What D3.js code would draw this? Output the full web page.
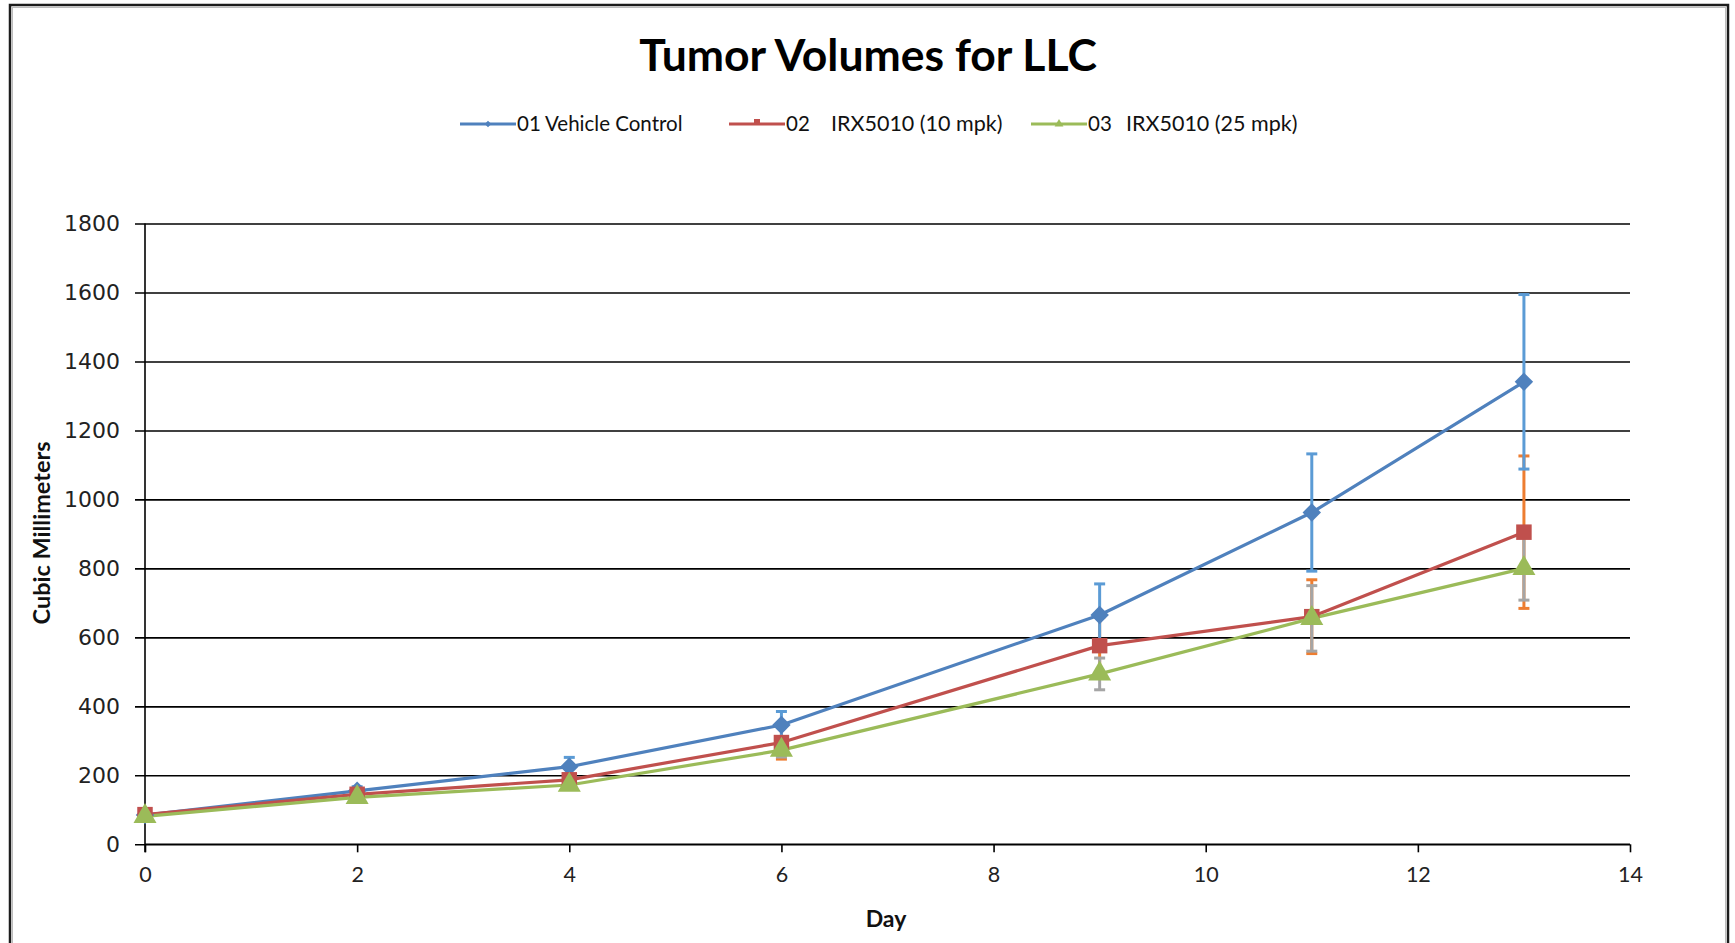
<!DOCTYPE html>
<html>
<head>
<meta charset="utf-8">
<script src="https://cdn.jsdelivr.net/npm/d3@7"></script>
<style>
  html, body { margin: 0; padding: 0; background: #fff; }
  svg { display: block; }
</style>
</head>
<body>
<svg id="chart" width="1735" height="943"></svg>
<script>
// Measurement days and mean tumor volumes (mm³) with their error (±)
const days = [0, 2, 4, 6, 9, 11, 13];
const vehicle = [85, 155, 225, 346, 665, 962, 1341];
const vehicleErr = [5, 12, 27, 39, 90, 170, 253];
const mpk10 = [86, 145, 187, 295, 576, 660, 905];
const mpk10Err = [5, 8, 15, 48, 82, 107, 221];
const mpk25 = [81, 136, 172, 273, 494, 655, 800];
const mpk25Err = [4, 8, 12, 20, 46, 95, 92];
const seriesCodes = ["01", "02", "03"];
const seriesLabels = ["Vehicle Control", "IRX5010 (10 mpk)", "IRX5010 (25 mpk)"];
const yTicks = [0, 200, 400, 600, 800, 1000, 1200, 1400, 1600, 1800];
const xTicks = [0, 2, 4, 6, 8, 10, 12, 14];

const series = [
  { code: seriesCodes[0], label: seriesLabels[0], values: vehicle, err: vehicleErr, color: "#4F81BD", errColor: "#5B9BD5", shape: "diamond" },
  { code: seriesCodes[1], label: seriesLabels[1], values: mpk10, err: mpk10Err, color: "#C0504D", errColor: "#ED7D31", shape: "square" },
  { code: seriesCodes[2], label: seriesLabels[2], values: mpk25, err: mpk25Err, color: "#9BBB59", errColor: "#A5A5A5", shape: "triangle" }
];

const svg = d3.select("#chart");

// Chart frame
svg.append("rect")
  .attr("x", 10).attr("y", 5)
  .attr("width", 1718).attr("height", 960)
  .attr("fill", "#fff")
  .attr("stroke", "#1c1c1c").attr("stroke-width", 2.5);
svg.append("rect")
  .attr("x", 12.5).attr("y", 7.5)
  .attr("width", 1713).attr("height", 960)
  .attr("fill", "none")
  .attr("stroke", "#bdbdbd").attr("stroke-width", 1);

const plot = { left: 145, right: 1630, top: 223.5, bottom: 844.3 };

const x = d3.scaleLinear().domain([0, 14]).range([plot.left, plot.right]);
const y = d3.scaleLinear().domain([0, 1800]).range([plot.bottom, plot.top]);

// Title
svg.append("text")
  .attr("x", 868).attr("y", 71)
  .attr("text-anchor", "middle")
  .attr("font-family", "Lato, sans-serif")
  .attr("font-weight", "bold")
  .attr("font-size", 44.5)
  .attr("fill", "#000")
  .text("Tumor Volumes for LLC");

// Horizontal gridlines with left tick stubs
const yAxis = d3.axisLeft(y)
  .tickValues(yTicks)
  .tickSize(-(plot.right - plot.left))
  .tickPadding(25)
  .tickFormat(d3.format("d"));
const gy = svg.append("g")
  .attr("transform", `translate(${plot.left},0)`)
  .call(yAxis);
gy.select(".domain").remove();
gy.selectAll(".tick line")
  .attr("x1", -10)
  .attr("stroke", "#000").attr("stroke-width", 1.6);
gy.selectAll(".tick text")
  .attr("font-family", "'DejaVu Sans', Verdana, sans-serif")
  .attr("font-size", 22)
  .attr("fill", "#222");

// Vertical value axis line
svg.append("line")
  .attr("x1", plot.left).attr("x2", plot.left)
  .attr("y1", plot.top).attr("y2", plot.bottom + 8)
  .attr("stroke", "#000").attr("stroke-width", 1.6);

// Day axis
const xAxis = d3.axisBottom(x)
  .tickValues(xTicks)
  .tickSize(8)
  .tickPadding(14)
  .tickFormat(d3.format("d"));
const gx = svg.append("g")
  .attr("transform", `translate(0,${plot.bottom})`)
  .call(xAxis);
gx.select(".domain")
  .attr("d", `M${plot.left},0H${plot.right}`)
  .attr("stroke", "#000").attr("stroke-width", 1.6);
gx.selectAll(".tick line").attr("stroke", "#000").attr("stroke-width", 1.6);
gx.selectAll(".tick text")
  .attr("font-family", "Lato, sans-serif")
  .attr("font-size", 21.5)
  .attr("fill", "#222");

// Axis titles
svg.append("text")
  .attr("x", 886).attr("y", 927)
  .attr("text-anchor", "middle")
  .attr("font-family", "Lato, sans-serif")
  .attr("font-weight", "bold")
  .attr("font-size", 23)
  .attr("fill", "#111")
  .text("Day");
svg.append("text")
  .attr("transform", "translate(50,533) rotate(-90)")
  .attr("text-anchor", "middle")
  .attr("font-family", "Lato, sans-serif")
  .attr("font-weight", "bold")
  .attr("font-size", 23.5)
  .attr("fill", "#111")
  .text("Cubic Millimeters");

// Error bars (orange, gray, then blue on top)
const errOrder = [1, 2, 0];
errOrder.forEach(i => {
  const s = series[i];
  const g = svg.append("g").attr("class", "errbars");
  days.forEach((d, j) => {
    const cx = x(d);
    const top = y(s.values[j] + s.err[j]);
    const bot = y(s.values[j] - s.err[j]);
    g.append("line").attr("x1", cx).attr("x2", cx).attr("y1", top).attr("y2", bot)
      .attr("stroke", s.errColor).attr("stroke-width", 3);
    [top, bot].forEach(v => {
      g.append("line").attr("x1", cx - 5.5).attr("x2", cx + 5.5).attr("y1", v).attr("y2", v)
        .attr("stroke", s.errColor).attr("stroke-width", 3);
    });
  });
});

// Series lines
const line = d3.line().x((d, j) => x(days[j])).y(d => y(d));
series.forEach(s => {
  svg.append("path")
    .datum(s.values)
    .attr("d", line)
    .attr("fill", "none")
    .attr("stroke", s.color)
    .attr("stroke-width", 3.2)
    .attr("stroke-linejoin", "round");
});

// Marker symbols
const symbolFor = {
  diamond: d3.symbol().type(d3.symbolSquare).size(170),
  square: d3.symbol().type(d3.symbolSquare).size(240),
  triangle: d3.symbol().type(d3.symbolTriangle).size(230)
};
series.forEach(s => {
  svg.append("g").selectAll("path")
    .data(s.values)
    .join("path")
    .attr("d", symbolFor[s.shape])
    .attr("transform", (d, j) => `translate(${x(days[j])},${y(d)})` + (s.shape === "diamond" ? " rotate(45)" : ""))
    .attr("fill", s.color);
});

// Legend: line sample, series code, then series label
const legendItems = [
  { lx: 460, cx: 517, tx: 555 },
  { lx: 729, cx: 786, tx: 831 },
  { lx: 1031, cx: 1088, tx: 1126 }
];
const legendSymbol = {
  diamond: d3.symbol().type(d3.symbolSquare).size(22),
  square: d3.symbol().type(d3.symbolSquare).size(36),
  triangle: d3.symbol().type(d3.symbolTriangle).size(34)
};
series.forEach((s, i) => {
  const it = legendItems[i];
  const g = svg.append("g");
  g.append("line")
    .attr("x1", it.lx).attr("x2", it.lx + 56)
    .attr("y1", 124).attr("y2", 124)
    .attr("stroke", s.color).attr("stroke-width", 3);
  g.append("path")
    .attr("d", legendSymbol[s.shape])
    .attr("transform", `translate(${it.lx + 28},${s.shape === "square" ? 122 : 124})` + (s.shape === "diamond" ? " rotate(45)" : ""))
    .attr("fill", s.color);
  g.append("text")
    .attr("x", it.cx).attr("y", 131)
    .attr("font-family", "Lato, sans-serif")
    .attr("font-size", 20.5)
    .attr("fill", "#111")
    .text(s.code);
  g.append("text")
    .attr("x", i === 0 ? it.cx + 28 : it.tx).attr("y", 131)
    .attr("font-family", "Lato, sans-serif")
    .attr("font-size", i === 0 ? 20.5 : 21.5)
    .attr("fill", "#111")
    .text(s.label);
});
</script>
</body>
</html>
